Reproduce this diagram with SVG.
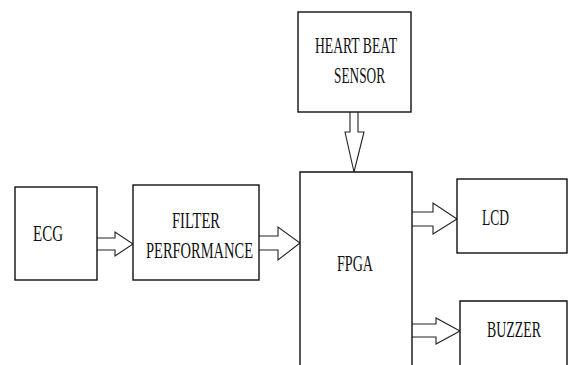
<svg xmlns="http://www.w3.org/2000/svg" width="568" height="365" viewBox="0 0 568 365">
<style>
.box{fill:#fff;stroke:#111;stroke-width:1.4}
.arr{fill:#fff;stroke:#222;stroke-width:1.1;stroke-linejoin:miter}
text{font-family:"Liberation Serif","Times New Roman",serif;font-size:24px;fill:#111}
</style>
<rect width="568" height="365" fill="#fff"/>
<g id="connectors">
<polyline class="arr" points="97,238 115,238 115,232 133,244 115,256 115,250 97,250"/>
<polyline class="arr" points="259,236 278,236 278,227 300,243 278,260 278,250 259,250"/>
<polyline class="arr" points="350,112 350,132 345,132 354,172 364,132 358,132 358,112"/>
<polyline class="arr" points="412,212 433,212 433,203 457,219 433,234 433,226 412,226"/>
<polyline class="arr" points="412,324 436,324 436,318 460,331 436,344 436,337 412,337"/>
</g>
<g id="ecg"><rect class="box" x="15" y="187" width="82" height="93"/><text x="33" y="241" textLength="30" lengthAdjust="spacingAndGlyphs">ECG</text></g>
<g id="filter"><rect class="box" x="133" y="185" width="126" height="95"/><text x="172" y="228" textLength="48" lengthAdjust="spacingAndGlyphs">FILTER</text><text x="146" y="258" textLength="107" lengthAdjust="spacingAndGlyphs">PERFORMANCE</text></g>
<g id="heart"><rect class="box" x="298" y="12" width="113" height="100"/><text x="315" y="53" textLength="82" lengthAdjust="spacingAndGlyphs">HEART BEAT</text><text x="334" y="83" textLength="51" lengthAdjust="spacingAndGlyphs">SENSOR</text></g>
<g id="fpga"><path class="box" d="M300,365 V172 H412 V365"/><text x="337" y="271" textLength="36" lengthAdjust="spacingAndGlyphs">FPGA</text></g>
<g id="lcd"><rect class="box" x="457" y="179" width="110" height="74"/><text x="482" y="225" textLength="27" lengthAdjust="spacingAndGlyphs">LCD</text></g>
<g id="buzzer"><path class="box" d="M460,365 V301 H567 V365"/><text transform="translate(487,337) scale(0.58,1)" x="0" y="0" textLength="93" lengthAdjust="spacingAndGlyphs">BUZZER</text></g>
</svg>
